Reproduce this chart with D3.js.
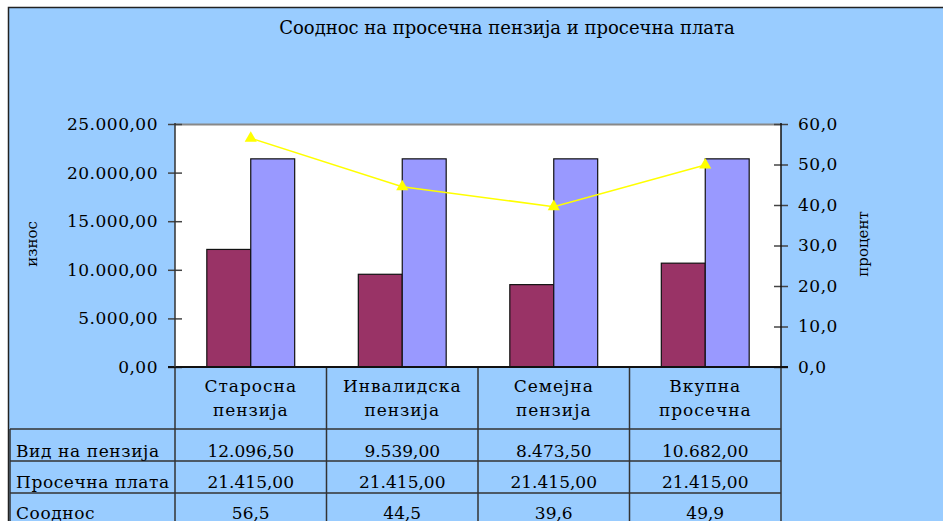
<!DOCTYPE html>
<html>
  <head>
    <meta charset="utf-8">
    <title></title>
    <style>
      body { margin: 0; background: #fff; }
      text { font-family: "DejaVu Serif", serif; fill: #000; }
    </style>
  </head>
  <body>
    <div id="chart"></div>
    <script src="https://d3js.org/d3.v7.min.js"></script>
    <script>
      // data
      const categories = [['Старосна', 'пензија'], ['Инвалидска', 'пензија'], ['Семејна', 'пензија'], ['Вкупна', 'просечна']];
      const pension = [12096.5, 9539, 8473.5, 10682];
      const salary = [21415, 21415, 21415, 21415];
      const ratio = [56.5, 44.5, 39.6, 49.9];
      const rowLabels = ['Вид на пензија', 'Просечна плата', 'Сооднос'];
      const leftTicks = [0, 5000, 10000, 15000, 20000, 25000];
      const rightTicks = [0, 10, 20, 30, 40, 50, 60];

      const width = 943, height = 521;
      const plot = { left: 175, right: 781, top: 124, bottom: 367 };
      const rowLines = [429, 461, 493];

      const loc = d3.formatLocale({ decimal: ',', thousands: '.', grouping: [3], currency: ['', ''] });
      const fmt2 = loc.format(',.2f');
      const fmt1 = loc.format(',.1f');

      const svg = d3.select('#chart').append('svg')
        .attr('width', width).attr('height', height);

      // frame
      svg.append('rect').attr('x', 8.5).attr('y', 7.5).attr('width', width).attr('height', height)
        .attr('fill', '#99ccff').attr('stroke', '#222').attr('stroke-width', 1.5);

      svg.append('text').attr('x', 507).attr('y', 34).attr('text-anchor', 'middle')
        .style('font-size', '18px')
        .text('Сооднос на просечна пензија и просечна плата');

      const x = d3.scaleBand().domain(d3.range(categories.length)).range([plot.left, plot.right]);
      const y = d3.scaleLinear().domain([0, 25000]).range([plot.bottom, plot.top]);
      const y2 = d3.scaleLinear().domain([0, 60]).range([plot.bottom, plot.top]);

      svg.append('rect').attr('x', plot.left).attr('y', plot.top)
        .attr('width', plot.right - plot.left).attr('height', plot.bottom - plot.top)
        .attr('fill', '#fff');
      svg.append('line').attr('x1', plot.left).attr('x2', plot.right)
        .attr('y1', plot.top + 0.5).attr('y2', plot.top + 0.5)
        .attr('stroke', '#888').attr('stroke-width', 2);

      const bw = x.bandwidth() * 0.29;
      const g = svg.append('g');
      g.selectAll('.b1').data(pension).enter().append('rect')
        .attr('x', (d, i) => x(i) + x.bandwidth() / 2 - bw)
        .attr('y', d => y(d)).attr('width', bw).attr('height', d => y(0) - y(d))
        .attr('fill', '#993366').attr('stroke', '#111').attr('stroke-width', 1.2);
      g.selectAll('.b2').data(salary).enter().append('rect')
        .attr('x', (d, i) => x(i) + x.bandwidth() / 2)
        .attr('y', d => y(d)).attr('width', bw).attr('height', d => y(0) - y(d))
        .attr('fill', '#9999ff').attr('stroke', '#111').attr('stroke-width', 1.2);

      const line = d3.line().x((d, i) => x(i) + x.bandwidth() / 2).y(d => y2(d));
      svg.append('path').datum(ratio).attr('d', line)
        .attr('fill', 'none').attr('stroke', '#ffff00').attr('stroke-width', 1.5);
      svg.selectAll('.tri').data(ratio).enter().append('path')
        .attr('d', d3.symbol().type(d3.symbolTriangle).size(64))
        .attr('transform', (d, i) => `translate(${x(i) + x.bandwidth() / 2},${y2(d)})`)
        .attr('fill', '#ffff00');

      // axes
      const yAxis = svg.append('g').attr('transform', `translate(${plot.left},0)`)
        .call(d3.axisLeft(y).tickValues(leftTicks).tickFormat(fmt2).tickSize(7).tickPadding(10));
      yAxis.selectAll('.tick line').attr('x2', 7).clone().attr('x2', -7);
      const y2Axis = svg.append('g').attr('transform', `translate(${plot.right},0)`)
        .call(d3.axisRight(y2).tickValues(rightTicks).tickFormat(fmt1).tickSize(7).tickPadding(10));
      y2Axis.selectAll('.tick line').clone().attr('x2', -7);
      yAxis.select('.domain').remove();
      y2Axis.select('.domain').remove();
      svg.selectAll('.tick line').attr('stroke', '#444').attr('stroke-width', 1.5);
      svg.selectAll('.tick text').style('font-size', '17px').style('letter-spacing', '0.5px').attr('fill', '#000');

      svg.append('text').attr('transform', 'translate(37,244) rotate(-90)').attr('text-anchor', 'middle')
        .style('font-size', '15px').text('износ');
      svg.append('text').attr('transform', 'translate(868,244) rotate(-90)').attr('text-anchor', 'middle')
        .style('font-size', '15px').text('процент');

      // data table
      const grid = svg.append('g').attr('stroke', '#333').attr('stroke-width', 1.5);
      const cols = d3.range(categories.length + 1).map(i => i < categories.length ? x(i) : plot.right);
      grid.selectAll('.v').data(cols).enter().append('line')
        .attr('x1', d => d).attr('x2', d => d).attr('y1', plot.bottom).attr('y2', height);
      grid.append('line').attr('x1', 10).attr('x2', 10).attr('y1', rowLines[0]).attr('y2', height);
      grid.selectAll('.h').data(rowLines).enter().append('line')
        .attr('x1', 10).attr('x2', plot.right).attr('y1', d => d).attr('y2', d => d);
      svg.append('line').attr('x1', plot.left - 7).attr('x2', plot.right + 7)
        .attr('y1', plot.bottom).attr('y2', plot.bottom).attr('stroke', '#111').attr('stroke-width', 2);
      svg.append('line').attr('x1', plot.left).attr('x2', plot.left)
        .attr('y1', plot.top - 1).attr('y2', plot.bottom).attr('stroke', '#333').attr('stroke-width', 1.5);
      svg.append('line').attr('x1', plot.right).attr('x2', plot.right)
        .attr('y1', plot.top - 1).attr('y2', plot.bottom).attr('stroke', '#111').attr('stroke-width', 1.5);

      const cellText = svg.append('g').style('font-size', '17px').attr('text-anchor', 'middle');
      categories.forEach((c, i) => {
        c.forEach((t, k) => {
          cellText.append('text').attr('x', x(i) + x.bandwidth() / 2).attr('y', 392 + k * 24)
            .style('letter-spacing', '1px').text(t);
        });
      });
      const rows = [pension.map(fmt2), salary.map(fmt2), ratio.map(fmt1)];
      rows.forEach((r, j) => {
        svg.append('text').attr('x', 16).attr('y', 457 + j * 31).style('font-size', '17px')
          .style('letter-spacing', '0.6px').text(rowLabels[j]);
        r.forEach((v, i) => {
          cellText.append('text').attr('x', x(i) + x.bandwidth() / 2).attr('y', 457 + j * 31).text(v);
        });
      });
    </script>
  </body>
</html>
